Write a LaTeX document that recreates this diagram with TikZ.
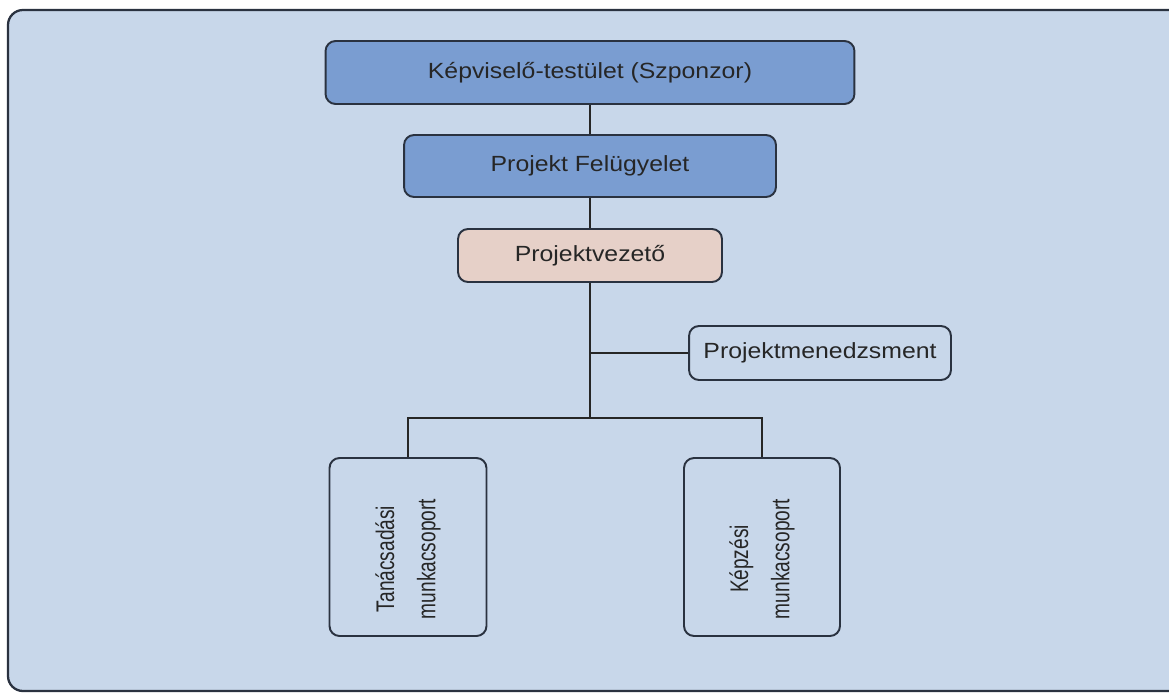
\documentclass[tikz,border=0pt]{standalone}
\usepackage{fontspec}
\setmainfont{Liberation Sans}
\newfontfamily\boxfont[FakeStretch=1.13]{Liberation Sans}
\newfontfamily\narrowfont[FakeStretch=0.75]{Liberation Sans}
\definecolor{bgblue}{HTML}{C8D7EA}
\definecolor{topblue}{HTML}{7A9DD1}
\definecolor{pinkbox}{HTML}{E6D0C8}
\definecolor{edgegray}{HTML}{2A3240}
\newcommand{\lowshift}{\hspace*{0.48cm}}
\begin{document}
\begin{tikzpicture}[x=0.02cm, y=-0.02cm,
    box/.style={draw=edgegray, line width=1.1pt, rounded corners=0.2cm, shape=rectangle,
      font=\boxfont\fontsize{12.5}{15}\selectfont, text=black!85, inner sep=0pt},
    vbox/.style={box, font=\narrowfont\fontsize{14.5}{23.5}\selectfont, align=center},
    link/.style={draw=black!85, line width=1.2pt}]
    \useasboundingbox (0,0) rectangle (1169,693);
    \clip (0,0) rectangle (1169,693);
    \draw[edgegray, line width=1.3pt, fill=bgblue, rounded corners=0.3cm] (8,10) rectangle (1200,691);

    \node[box, fill=topblue, minimum width=10.58cm, minimum height=1.26cm] at (590, 72.5) (sponsor) {Képviselő-testület (Szponzor)};
    \node[box, fill=topblue, minimum width=7.44cm, minimum height=1.24cm] at (590, 166) (felugyelet) {Projekt Felügyelet};
    \node[box, fill=pinkbox, minimum width=5.28cm, minimum height=1.06cm] at (590, 255.5) (vezeto) {Projektvezető};
    \node[box, fill=bgblue, minimum width=5.24cm, minimum height=1.08cm] at (820, 353) (menedzsment) {Projektmenedzsment};
    \node[vbox, fill=bgblue, minimum width=3.56cm, minimum height=3.14cm, rotate=90] at (408, 547) (tanacsadasi) {Tanácsadási\lowshift\\munkacsoport\lowshift};
    \node[vbox, fill=bgblue, minimum width=3.56cm, minimum height=3.12cm, rotate=90] at (762, 547) (kepzesi) {Képzési\lowshift\\munkacsoport\lowshift};
    \coordinate (bus) at (590, 418);

    \draw[link] (sponsor) -- (felugyelet);
    \draw[link] (felugyelet) -- (vezeto);
    \draw[link] (vezeto) -- (bus);
    \draw[link] (menedzsment.west) -- (menedzsment.west -| vezeto.south);
    \draw[link] (tanacsadasi.east) |- (bus) -| (kepzesi.east);
  \end{tikzpicture}
\end{document}
